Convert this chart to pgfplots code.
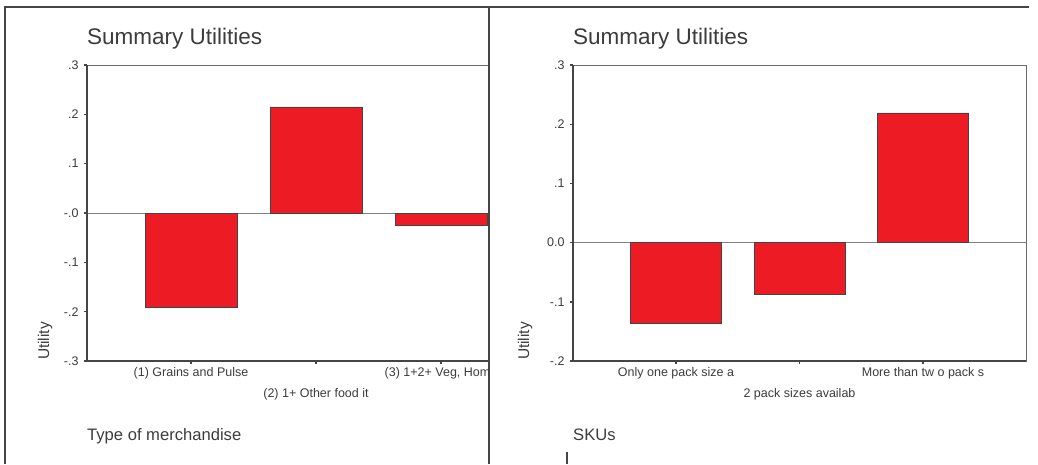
\documentclass[border=0pt]{standalone}
\usepackage{pgfplots}
\pgfplotsset{compat=1.18}
\usepackage{fontspec}
\setmainfont{Liberation Sans}

\definecolor{barred}{HTML}{ED1C24}
\definecolor{txt}{HTML}{3C3C3C}
\definecolor{frm}{HTML}{454545}

\pgfplotsset{
  spss/.style={
    scale only axis,
    height=296pt,
    clip=false,
    axis line style={draw=gray!85!black, line width=0.8pt},
    tick align=outside,
    major tick length=3pt,
    tick style={line width=1.4pt, color=frm},
    xtick pos=bottom, ytick pos=left,
    /pgf/number format/assume math mode=true,
    tick label style={text=txt, font=\fontsize{12.5}{14}\selectfont},
    yticklabel style={xshift=-2pt},
    extra x tick style={xticklabel style={yshift=-21pt}},
  },
}

\begin{document}
\begin{tikzpicture}
\path[use as bounding box] (0,0) rectangle (1038pt,464pt);

% panel frames
\draw[frm, line width=2pt] (5pt,0pt) -- (5pt,457pt) -- (1029pt,457pt);
\draw[frm, line width=2pt] (489pt,0pt) -- (489pt,457pt);
\draw[frm, line width=2pt] (567pt,0pt) -- (567pt,12pt);

% left chart (cut by the panel edge)
\begin{scope}
\clip (0pt,0pt) rectangle (488pt,456pt);
\begin{axis}[spss,
  at={(87pt,103pt)}, anchor=south west,
  width=458pt,
  xmin=0.168, xmax=3.832,
  ymin=-0.3, ymax=0.3,
  ytick={-0.3,-0.2,-0.1,0,0.1,0.2,0.3},
  yticklabels={-.3,-.2,-.1,-.0,.1,.2,.3},
  xtick={1,3},
  xticklabels={(1) Grains and Pulse,{(3) 1+2+ Veg, Home}},
  extra x ticks={2},
  extra x tick labels={(2) 1+ Other food it},
]
\draw[gray, line width=0.8pt] ({rel axis cs:0,0}|-{axis cs:1,0}) -- ({rel axis cs:1,0}|-{axis cs:1,0});
\addplot[ybar, bar width=92pt, fill=barred, draw=frm, line width=0.6pt]
  coordinates {(1,-0.191) (2,0.215) (3,-0.024)};
\draw[frm, line width=1.5pt] (rel axis cs:0,1) -- (rel axis cs:0,0) -- (rel axis cs:1,0);
\end{axis}
\end{scope}

% right chart
\begin{axis}[spss,
  at={(573pt,103pt)}, anchor=south west,
  width=453pt,
  xmin=0.166, xmax=3.834,
  ymin=-0.2, ymax=0.3,
  ytick={-0.2,-0.1,0,0.1,0.2,0.3},
  yticklabels={-.2,-.1,0.0,.1,.2,.3},
  xtick={1,3},
  xticklabels={Only one pack size a,More than tw o pack s},
  extra x ticks={2},
  extra x tick labels={2 pack sizes availab},
]
\draw[gray, line width=0.8pt] ({rel axis cs:0,0}|-{axis cs:1,0}) -- ({rel axis cs:1,0}|-{axis cs:1,0});
\addplot[ybar, bar width=91pt, fill=barred, draw=frm, line width=0.6pt]
  coordinates {(1,-0.137) (2,-0.088) (3,0.219)};
\draw[frm, line width=1.5pt] (rel axis cs:0,1) -- (rel axis cs:0,0) -- (rel axis cs:1,0);
\end{axis}

% titles and labels
\node[anchor=base west, inner sep=0pt, text=txt, font=\fontsize{22.5}{26}\selectfont] at (87pt,419pt) {Summary Utilities};
\node[anchor=base west, inner sep=0pt, text=txt, font=\fontsize{22.5}{26}\selectfont] at (573pt,419pt) {Summary Utilities};
\node[anchor=base west, inner sep=0pt, text=txt, font=\fontsize{16.6}{19}\selectfont] at (87pt,24pt) {Type of merchandise};
\node[anchor=base west, inner sep=0pt, text=txt, font=\fontsize{16.6}{19}\selectfont] at (573pt,24pt) {SKUs};
\node[rotate=90, inner sep=0pt, text=txt, font=\fontsize{15.5}{18}\selectfont] at (45pt,123pt) {Utility};
\node[rotate=90, inner sep=0pt, text=txt, font=\fontsize{15.5}{18}\selectfont] at (525pt,123pt) {Utility};
\end{tikzpicture}
\end{document}
